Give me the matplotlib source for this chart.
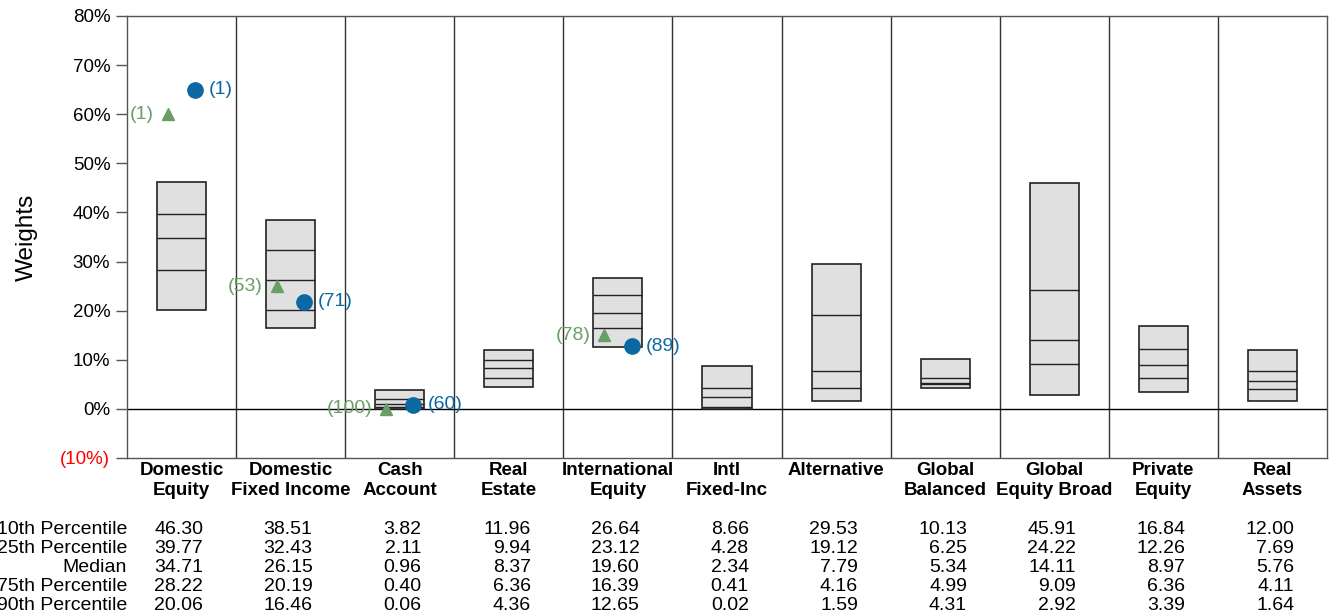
import matplotlib
matplotlib.use("Agg")
import matplotlib.pyplot as plt
import numpy as np

plt.rcParams['font.family'] = ['Liberation Sans', 'DejaVu Sans']

categories = ["Domestic\nEquity", "Domestic\nFixed Income", "Cash\nAccount", "Real\nEstate",
              "International\nEquity", "Intl\nFixed-Inc", "Alternative\n", "Global\nBalanced",
              "Global\nEquity Broad", "Private\nEquity", "Real\nAssets"]

p10 = [46.30, 38.51, 3.82, 11.96, 26.64, 8.66, 29.53, 10.13, 45.91, 16.84, 12.00]
p25 = [39.77, 32.43, 2.11, 9.94, 23.12, 4.28, 19.12, 6.25, 24.22, 12.26, 7.69]
p50 = [34.71, 26.15, 0.96, 8.37, 19.60, 2.34, 7.79, 5.34, 14.11, 8.97, 5.76]
p75 = [28.22, 20.19, 0.40, 6.36, 16.39, 0.41, 4.16, 4.99, 9.09, 6.36, 4.11]
p90 = [20.06, 16.46, 0.06, 4.36, 12.65, 0.02, 1.59, 4.31, 2.92, 3.39, 1.64]

row_labels = ["10th Percentile", "25th Percentile", "Median", "75th Percentile", "90th Percentile"]

# Policy target (triangles) and actual allocation (circles) with percentile ranks
policy_idx = [0, 1, 2, 4]
policy_val = [60.0, 25.0, 0.0, 15.0]
policy_rank = [1, 53, 100, 78]

actual_idx = [0, 1, 2, 4]
actual_val = [65.0, 21.8, 0.8, 12.8]
actual_rank = [1, 71, 60, 89]

yticks = [-10, 0, 10, 20, 30, 40, 50, 60, 70, 80]

green = "#6a9e66"
blue = "#0b68a3"

fig = plt.figure(figsize=(13.3, 6.14), dpi=100)
ax = fig.add_axes([127 / 1330, 1 - 458 / 614, 1200 / 1330, 442 / 614])

n = len(categories)
x = np.arange(n) + 0.5
bw = 0.45

ax.set_xlim(0, n)
ax.set_ylim(-10, 80)

# category separators and zero line
for k in range(1, n):
    ax.axvline(k, color="#333333", lw=1.0, zorder=1)
ax.axhline(0, color="black", lw=1.0, zorder=1)

# percentile boxes
ax.bar(x, np.array(p10) - np.array(p90), bottom=p90, width=bw,
       color="#e0e0e0", edgecolor="#222222", linewidth=1.2, zorder=2)
for q in (p25, p50, p75):
    ax.hlines(q, x - bw / 2, x + bw / 2, color="#222222", lw=1.0, zorder=3)

off = 0.125
for i, v, r in zip(policy_idx, policy_val, policy_rank):
    ax.plot(x[i] - off, v, marker="^", color=green, markersize=9, zorder=4, ls="none")
    ax.annotate(f"({r})", (x[i] - off, v), xytext=(-10, 0), textcoords="offset points",
                ha="right", va="center", color=green, fontsize=14, zorder=5)
for i, v, r in zip(actual_idx, actual_val, actual_rank):
    ax.plot(x[i] + off, v, marker="o", color=blue, markersize=11, zorder=4, ls="none")
    ax.annotate(f"({r})", (x[i] + off, v), xytext=(10, 0), textcoords="offset points",
                ha="left", va="center", color=blue, fontsize=14, zorder=5)

ax.set_yticks(yticks)
ax.set_yticklabels([f"({abs(t)}%)" if t < 0 else f"{t}%" for t in yticks], fontsize=13.5)
for lbl, t in zip(ax.get_yticklabels(), yticks):
    lbl.set_color("red" if t < 0 else "black")
ax.tick_params(axis="y", direction="out", length=8, width=1, color="#555555", pad=4)
ax.set_xticks([])
for s in ax.spines.values():
    s.set_color("#555555")
    s.set_linewidth(1.0)
ax.set_ylabel("Weights", fontsize=17.5, labelpad=16)

trans = ax.get_xaxis_transform()
for xi, c in zip(x, categories):
    ax.text(xi, -0.008, c, transform=trans, ha="center", va="top",
            fontsize=13.5, fontweight="bold", linespacing=1.3)

row_y = [-0.1625, -0.2055, -0.2485, -0.2915, -0.3345]
for yy, lab, vals in zip(row_y, row_labels, (p10, p25, p50, p75, p90)):
    ax.text(0, yy, lab, transform=trans, ha="right", va="center", fontsize=14)
    for xi, v in zip(x, vals):
        ax.text(xi + 0.2, yy, f"{v:.2f}", transform=trans, ha="right", va="center",
                fontsize=14)

fig.savefig("out.png", dpi=100)
